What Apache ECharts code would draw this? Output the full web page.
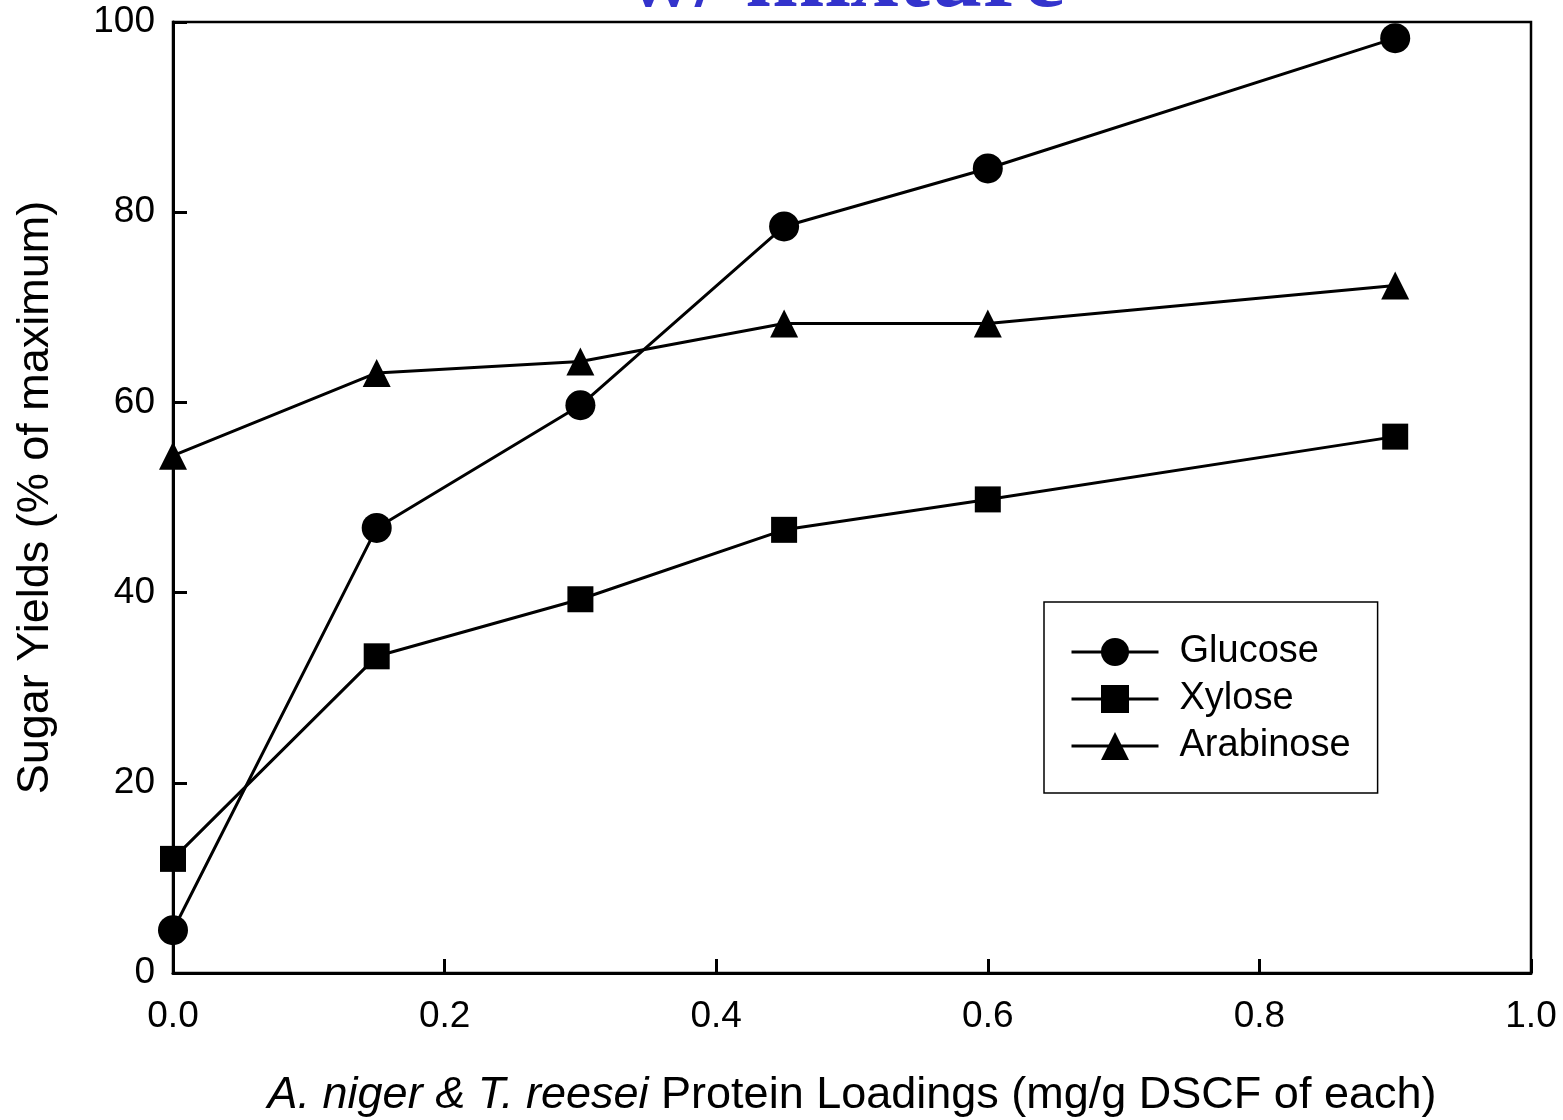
<!DOCTYPE html>
<html>
<head>
<meta charset="utf-8">
<script src="https://cdn.jsdelivr.net/npm/echarts@6/dist/echarts.min.js"></script>
<style>html,body{margin:0;padding:0;background:#fff;}#c{width:1563px;height:1120px;}</style>
</head>
<body>
<div id="c"></div>
<script>
var loadings = [0, 0.15, 0.3, 0.45, 0.6, 0.9];
var glucose = [4.5, 46.8, 59.7, 78.5, 84.6, 98.3];
var xylose = [12.0, 33.3, 39.3, 46.6, 49.8, 56.4];
var arabinose = [54.4, 63.1, 64.3, 68.3, 68.3, 72.3];
var seriesNames = ['Glucose', 'Xylose', 'Arabinose'];
var xTicks = ['0.0', '0.2', '0.4', '0.6', '0.8', '1.0'];
var yTicks = ['0', '20', '40', '60', '80', '100'];

function pairs(ys) { return loadings.map(function (x, i) { return [x, ys[i]]; }); }

var chart = echarts.init(document.getElementById('c'));
var font = '"Liberation Sans", Arial, sans-serif';
function mk(name, data, symbol, size) {
  return {
    name: name, type: 'line', data: pairs(data), symbol: symbol, symbolSize: size,
    lineStyle: { color: '#000', width: 3 }, itemStyle: { color: '#000' },
    showAllSymbol: true, animation: false, z: 3
  };
}
chart.setOption({
  animation: false,
  backgroundColor: '#fff',
  grid: { left: 173, right: 32, top: 22, bottom: 147, show: true, borderColor: '#000', borderWidth: 2.5,
    containLabel: false, outerBoundsMode: 'none' },
  xAxis: {
    type: 'value', min: 0, max: 1, interval: 0.2,
    axisLine: { lineStyle: { color: '#000', width: 3 } },
    axisTick: { inside: true, length: 14, lineStyle: { color: '#000', width: 3 } },
    splitLine: { show: false },
    axisLabel: { color: '#000', fontSize: 37, fontFamily: font, margin: 25,
      formatter: function (v) { return xTicks[Math.round(v / 0.2)]; } },
    name: '{i|A. niger & T. reesei} Protein Loadings (mg/g DSCF of each)',
    nameLocation: 'middle', nameGap: 100,
    nameTextStyle: { color: '#000', fontSize: 45, fontFamily: font,
      rich: { i: { fontStyle: 'italic', fontSize: 45, fontFamily: font, color: '#000' } } }
  },
  yAxis: {
    type: 'value', min: 0, max: 100, interval: 20,
    axisLine: { lineStyle: { color: '#000', width: 3 } },
    axisTick: { inside: true, length: 14, lineStyle: { color: '#000', width: 3 } },
    splitLine: { show: false },
    axisLabel: { color: '#000', fontSize: 37, fontFamily: font, margin: 18,
      formatter: function (v) { return yTicks[Math.round(v / 20)]; } },
    name: 'Sugar Yields (% of maximum)', nameLocation: 'middle', nameGap: 115,
    nameTextStyle: { color: '#000', fontSize: 45, fontFamily: font }
  },
  legend: {
    data: seriesNames, orient: 'vertical', left: 1044, top: 602,
    itemWidth: 87, itemHeight: 35, itemGap: 9,
    padding: [31, 27, 28, 26],
    borderColor: '#000', borderWidth: 1.5, backgroundColor: '#fff',
    lineStyle: { width: 3, color: '#000' },
    textStyle: { color: '#000', fontSize: 38, fontFamily: font, padding: [0, 0, 0, 16] },
    selectedMode: false
  },
  graphic: [{
    type: 'text', x: 846, y: -66, z: 10,
    style: { text: 'w/ mixture', fill: '#3333cc', align: 'center',
      font: 'bold 95px "Liberation Serif", "Times New Roman", serif' }
  }],
  series: [
    mk(seriesNames[0], glucose, 'circle', 30),
    mk(seriesNames[1], xylose, 'rect', 26),
    mk(seriesNames[2], arabinose, 'triangle', 28)
  ]
});
</script>
</body>
</html>
